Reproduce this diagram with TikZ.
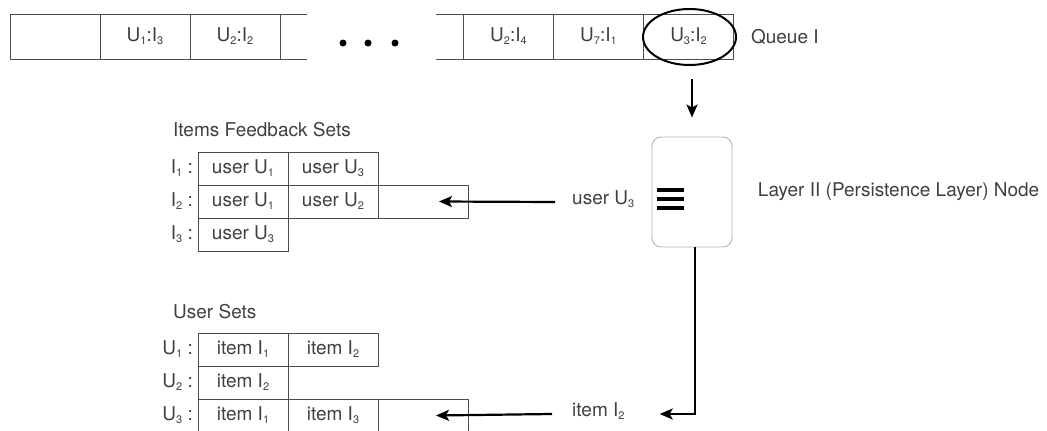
\documentclass[tikz,border=0pt]{standalone}
\usepackage{fontspec}
\setmainfont{TeX Gyre Heros}
\usepackage{tikz}
\usetikzlibrary{calc}
\usetikzlibrary{arrows.meta,positioning,shapes.geometric}
\newcommand{\idx}[1]{\raisebox{-0.3ex}{\fontsize{11}{11}\selectfont #1}}

\begin{document}
\begin{tikzpicture}[x=1pt, y=-1pt, font=\fontsize{19}{22}\selectfont, text=black!75]
    % Define styles
    \tikzstyle{cell} = [rectangle, draw=black!70, line width=0.9pt, minimum width=90pt, minimum height=33pt, inner sep=0pt, outer sep=0pt]
    \tikzstyle{slot} = [cell, minimum height=45pt]
    \tikzstyle{qline} = [draw=black!70, line width=0.9pt]
    \tikzstyle{rowlabel} = [inner sep=0pt]
    \tikzstyle{dot} = [circle, fill=black, inner sep=0pt, minimum size=7pt]
    \tikzstyle{arrow} = [-{Stealth[length=13pt,width=11pt,inset=3pt]}, line width=2.2pt, black]

    \useasboundingbox (0,0) rectangle (1047,431);
    \clip (0,0) rectangle (1047,431);

    % Draw queue slots
    \node[slot] (q1) at (55,36.5) {};
    \node[slot, right=0pt of q1] (q2) {U\idx{1}:I\idx{3}};
    \node[slot, right=0pt of q2] (q3) {U\idx{2}:I\idx{2}};
    \draw[qline] (q3.north east) -- ++(27,0);
    \draw[qline] (q3.south east) -- ++(27,0);
    \foreach \x [count=\i] in {343,368,395}
        \node[dot] (dot\i) at (\x,43) {};
    \node[slot] (q6) at (688.5,36.5) {U\idx{3}:I\idx{2}};
    \node[slot, left=0pt of q6] (q5) {U\idx{7}:I\idx{1}};
    \node[slot, left=0pt of q5] (q4) {U\idx{2}:I\idx{4}};
    \draw[qline] (q4.north west) -- ++(-28,0);
    \draw[qline] (q4.south west) -- ++(-28,0);
    \node[right=14pt of q6] (queue) {Queue I};

    % Highlight the selected entry
    \node[ellipse, draw=black, line width=2pt, minimum width=93pt, minimum height=56pt, inner sep=0pt] (sel) at (689.5,37) {};

    % Draw the layer node
    \node[draw=black!30, line width=0.9pt, rounded corners=9pt, minimum width=80pt, minimum height=110pt] (layer) at (692,192) {};
    \foreach \dy in {-2,7,16}
        \draw[line width=3.2pt, black] ($(layer.west)+(5,\dy)$) -- ++(27,0);
    \node[right=22pt of layer] (layerlbl) {Layer II (Persistence Layer) Node};

    % Draw items feedback sets
    \node[anchor=west, inner sep=0pt] (ftitle) at (173,130) {Items Feedback Sets};
    \node[cell] (f11) at (243,168.5) {user U\idx{1}};
    \node[cell, right=0pt of f11] (f12) {user U\idx{3}};
    \node[cell, below=0pt of f11] (f21) {user U\idx{1}};
    \node[cell, right=0pt of f21] (f22) {user U\idx{2}};
    \node[cell, right=0pt of f22] (f23) {};
    \node[cell, below=0pt of f21] (f31) {user U\idx{3}};
    \node[rowlabel, left=5pt of f11] (fl1) {I\idx{1} :};
    \node[rowlabel, left=5pt of f21] (fl2) {I\idx{2} :};
    \node[rowlabel, left=5pt of f31] (fl3) {I\idx{3} :};

    % Draw user sets
    \node[anchor=west, inner sep=0pt] (utitle) at (173,312) {User Sets};
    \node[cell] (u11) at (243,349.5) {item I\idx{1}};
    \node[cell, right=0pt of u11] (u12) {item I\idx{2}};
    \node[cell, below=0pt of u11] (u21) {item I\idx{2}};
    \node[cell, below=0pt of u21] (u31) {item I\idx{1}};
    \node[cell, right=0pt of u31] (u32) {item I\idx{3}};
    \node[cell, right=0pt of u32] (u33) {};
    \node[rowlabel, left=5pt of u11] (ul1) {U\idx{1} :};
    \node[rowlabel, left=5pt of u21] (ul2) {U\idx{2} :};
    \node[rowlabel, left=5pt of u31] (ul3) {U\idx{3} :};

    % Draw the updates
    \node[inner sep=0pt, anchor=mid west] (userlbl) at (572,202) {user U\idx{3}};
    \node[inner sep=0pt, anchor=mid west] (itemlbl) at (572,414) {item I\idx{2}};
    \draw[arrow, shorten <=13pt, shorten >=19pt] (layer.north |- sel.south) -- (layer.north);
    \draw[arrow] ([xshift=-17pt]userlbl.mid west) -- ([xshift=16pt]f23.center);
    \draw[arrow] ([xshift=3pt]layer.south) |- ([xshift=35pt]itemlbl.mid east);
    \draw[arrow] ([xshift=-20pt]itemlbl.mid west) -- ([xshift=13pt]u33.center);
\end{tikzpicture}
\end{document}
